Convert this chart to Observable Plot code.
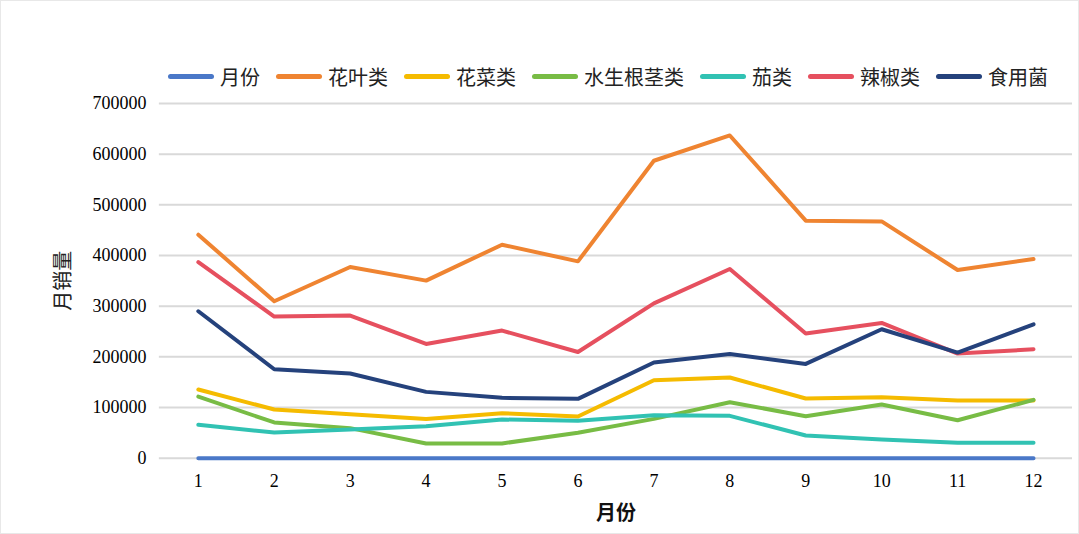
<!DOCTYPE html>
<html>
<head>
<meta charset="utf-8">
<script src="https://cdn.jsdelivr.net/npm/d3@7"></script>
<script src="https://cdn.jsdelivr.net/npm/@observablehq/plot@0.6"></script>
<style>
  html, body { margin: 0; padding: 0; background: #fff; }
  #wrap { position: relative; width: 1079px; height: 534px; box-sizing: border-box; border: 1px solid #e8e8e8; overflow: hidden; }
  #legend { position: absolute; top: 63px; left: 167px; height: 24px; display: flex; align-items: center;
    font-family: "Noto Sans CJK SC", sans-serif; font-size: 20px; color: #222; white-space: nowrap; }
  .item { display: flex; align-items: center; margin-right: 16px; }
  .sw { width: 46px; height: 5px; border-radius: 3px; margin-right: 6px; }
  #chart { position: absolute; top: 89px; left: -1px; }
</style>
</head>
<body>
<div id="wrap">
  <div id="legend"></div>
  <div id="chart"></div>
</div>
<script>
const months = [1, 2, 3, 4, 5, 6, 7, 8, 9, 10, 11, 12];
const seriesNames = ["月份", "花叶类", "花菜类", "水生根茎类", "茄类", "辣椒类", "食用菌"];
const colors = ["#4a78c8", "#ef8431", "#f5bb00", "#78bc45", "#31c2b3", "#e6505f", "#25427c"];
const yTicks = [0, 100000, 200000, 300000, 400000, 500000, 600000, 700000];

const monthValues   = [1, 2, 3, 4, 5, 6, 7, 8, 9, 10, 11, 12];
const huaye         = [441000, 309600, 377200, 350400, 421300, 388400, 587000, 636900, 468700, 467300, 371300, 393000];
const huacai        = [135400, 96000, 86800, 77500, 88700, 82200, 153800, 159100, 117700, 120300, 113700, 113700];
const shuisheng     = [121600, 70400, 59200, 29000, 29000, 50000, 77500, 110400, 82800, 105800, 74900, 115000];
const qie           = [65800, 50600, 56600, 63100, 76300, 73600, 84800, 83500, 44700, 36800, 30200, 30200];
const lajiao        = [387000, 279400, 281400, 225400, 251800, 209600, 305600, 373300, 245900, 266800, 206400, 214900];
const shiyongjun    = [289900, 175500, 167000, 130800, 119000, 117000, 188700, 205700, 186000, 254400, 208400, 264200];

const seriesValues = [monthValues, huaye, huacai, shuisheng, qie, lajiao, shiyongjun];
const data = [];
seriesNames.forEach((name, i) => {
  months.forEach((m, j) => data.push({ series: name, month: m, value: seriesValues[i][j] }));
});

// legend
const legend = document.getElementById("legend");
seriesNames.forEach((name, i) => {
  const it = document.createElement("div");
  it.className = "item";
  const sw = document.createElement("div");
  sw.className = "sw";
  sw.style.background = colors[i];
  const tx = document.createElement("span");
  tx.textContent = name;
  it.appendChild(sw); it.appendChild(tx);
  legend.appendChild(it);
});

const chart = Plot.plot({
  width: 1079,
  height: 445,
  marginTop: 13,
  marginBottom: 77,
  marginLeft: 159,
  marginRight: 6,
  style: { fontFamily: "'Liberation Serif', serif", fontSize: "18px", color: "#000", background: "transparent" },
  x: { type: "point", domain: months, padding: 0.48 },
  y: { domain: [0, 700000] },
  color: { domain: seriesNames, range: colors },
  marks: [
    Plot.gridY(yTicks, { stroke: "#d9d9d9", strokeOpacity: 1, strokeWidth: 2 }),
    Plot.axisY(yTicks, { tickSize: 0, tickPadding: 13, tickFormat: d => String(d), label: null, fontSize: 18, fontFamily: "'Liberation Serif', serif" }),
    Plot.axisX(months, { tickSize: 0, tickPadding: 16, label: null, fontSize: 18, fontFamily: "'Liberation Serif', serif" }),
    Plot.lineY(data, { x: "month", y: "value", stroke: "series", strokeWidth: 4, strokeLinejoin: "round", strokeLinecap: "round" }),
    Plot.text(["月份"], { frameAnchor: "bottom", dy: 55, lineAnchor: "middle", fontSize: 20, fontWeight: "bold",
      fontFamily: "'Noto Sans CJK SC', sans-serif", fill: "#111" }),
    Plot.text(["月销量"], { frameAnchor: "left", dx: -96, rotate: -90, lineAnchor: "middle", textAnchor: "middle", fontSize: 20,
      fontFamily: "'Noto Sans CJK SC', sans-serif", fill: "#222" })
  ]
});
document.getElementById("chart").appendChild(chart);
</script>
</body>
</html>
